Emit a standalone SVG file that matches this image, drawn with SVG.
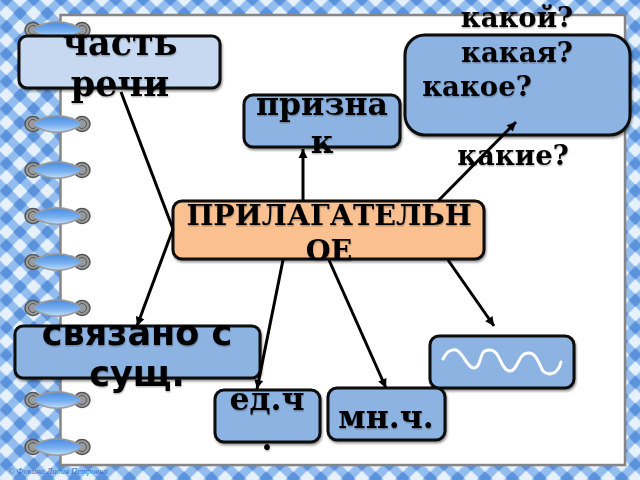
<svg xmlns="http://www.w3.org/2000/svg" width="640" height="480" viewBox="0 0 640 480">
<style>
.n{stroke:#0a0a0a;stroke-width:3;fill:#8db3e2;filter:url(#ds)}
.t{font-family:"DejaVu Serif",serif;font-weight:bold;fill:#000;filter:url(#ts);text-anchor:middle}
.s{font-family:"DejaVu Sans",sans-serif;font-weight:bold;fill:#000;filter:url(#ts);text-anchor:middle}
.c{stroke:#000;stroke-width:3;fill:none}
.a{marker-end:url(#ah)}
</style>
<defs>
<pattern id="g" width="27.35" height="27.35" patternUnits="userSpaceOnUse" x="20" y="20">
<rect width="27.35" height="27.35" fill="#93bdef"/>
<path d="M13.7 0L20.5 6.85 13.7 13.7 6.9 6.85ZM0 13.7L6.9 20.5 0 27.4ZM27.4 13.7L20.5 20.5 27.4 27.4Z" fill="#5a92dc"/>
<path d="M13.7 13L21.2 20.5 13.7 28 6.2 20.5ZM0 -.7L7.5 6.85 0 14.4ZM27.4 -.7L19.9 6.85 27.4 14.4Z" fill="#e6f1fc"/>
</pattern>
<linearGradient id="rb" x1="0" y1="0" x2="0" y2="1"><stop offset="0" stop-color="#4d8ee4"/><stop offset=".55" stop-color="#76aeee"/><stop offset="1" stop-color="#bcdaf7"/></linearGradient>
<filter id="ds" x="-10%" y="-10%" width="120%" height="125%"><feDropShadow dx="1" dy="2" stdDeviation="1" flood-color="#000" flood-opacity=".4"/></filter>
<filter id="ts" x="-10%" y="-10%" width="120%" height="130%"><feDropShadow dx=".5" dy="1.5" stdDeviation=".5" flood-color="#000" flood-opacity=".25"/></filter>
<marker id="ah" markerUnits="userSpaceOnUse" markerWidth="12" markerHeight="12" refX="10" refY="5" orient="auto"><path d="M1 .5L10 5 1 9.5Z" fill="#000"/></marker>
<g id="ring"><ellipse cx="33" cy="0" rx="8" ry="7.5" fill="#9a9a9a" stroke="#555" stroke-width="1.5"/><ellipse cx="82" cy="0" rx="8" ry="7.5" fill="#9a9a9a" stroke="#555" stroke-width="1.5"/><ellipse cx="33" cy="0" rx="4.5" ry="4.5" fill="none" stroke="#555"/><ellipse cx="82" cy="0" rx="4.5" ry="4.5" fill="none" stroke="#555"/><path d="M30 0Q57 -18 85 0Q57 18 30 0Z" fill="#9a9a9a"/><path d="M33 0Q57 -15 82 0Q57 15 33 0Z" fill="url(#rb)"/></g>
</defs>
<rect id="bg" width="640" height="480" fill="url(#g)"/>
<rect id="page" x="60.5" y="15" width="564.5" height="450" fill="#fff" stroke="#858585" stroke-width="2.5"/>
<g id="rings">
<use href="#ring" y="30"/><use href="#ring" y="77"/><use href="#ring" y="124"/><use href="#ring" y="170"/><use href="#ring" y="216"/><use href="#ring" y="262"/><use href="#ring" y="308"/><use href="#ring" y="354"/><use href="#ring" y="400"/><use href="#ring" y="447"/>
</g>
<text x="8" y="474" font-family="Liberation Serif,serif" font-style="italic" font-size="8.5" fill="#2f6fc0">© Фокина Лидия Петровна</text>
<g id="n-chast"><rect class="n" x="19" y="36" width="201" height="52" rx="8" style="fill:#c6d9f1"/><text class="t" font-size="35" x="120" y="55">часть</text><text class="t" font-size="35" x="120" y="96">речи</text></g>
<g id="n-kakoi"><rect class="n" x="405" y="35" width="225" height="100" rx="20"/><text class="t" font-size="27.5" x="517" y="27">какой?</text><text class="t" font-size="27.5" x="517" y="62">какая?</text><text class="t" font-size="27.5" x="477" y="96">какое?</text><text class="t" font-size="27.5" x="513" y="165">какие?</text></g>
<g id="n-priznak"><rect class="n" x="244" y="95" width="156" height="52" rx="9"/><text class="t" font-size="31.5" x="322" y="115">призна</text><text class="t" font-size="31.5" x="322" y="153">к</text></g>
<g id="n-adj"><rect class="n" x="173" y="201" width="311" height="58" rx="9" style="fill:#fac090"/><text class="t" font-size="28.5" x="329" y="225">ПРИЛАГАТЕЛЬН</text><text class="t" font-size="28.5" x="329" y="260">ОЕ</text></g>
<g id="n-svyaz"><rect class="n" x="15" y="326" width="245" height="52" rx="8"/><text class="s" font-size="35" x="137" y="345">связано с</text><text class="s" font-size="35" x="137" y="386">сущ.</text></g>
<g id="n-wave"><rect class="n" x="430" y="336" width="144" height="52" rx="9"/><path d="M443 359C447 351 451 349 456 350C463 352 467 368 474 368C481 368 480 352 485 351C490 349 493 350 496 353C501 359 503 371 510 371C518 371 518 353 528 353C536 352 539 364 543 371C548 376 558 375 561 362" fill="none" stroke="#fff" stroke-width="3" stroke-linecap="round"/></g>
<g id="n-ed"><rect class="n" x="215" y="390" width="105" height="52" rx="9"/><text class="t" font-size="31.5" x="267" y="410">ед.ч</text><text class="t" font-size="31.5" x="267" y="450">.</text></g>
<g id="n-mn"><rect class="n" x="328" y="388" width="117" height="52" rx="9"/><text class="t" font-size="31.5" x="386" y="428">мн.ч.</text></g>
<g id="connectors">
<path class="c a" d="M303 201V149"/>
<path class="c a" d="M438 201L516 122"/>
<path class="c" d="M121 92L173 229"/>
<path class="c a" d="M173 229L137 326"/>
<path class="c a" d="M283 260L257 389"/>
<path class="c a" d="M329 260L386 388"/>
<path class="c a" d="M448 260L494 326"/>
</g>
</svg>
